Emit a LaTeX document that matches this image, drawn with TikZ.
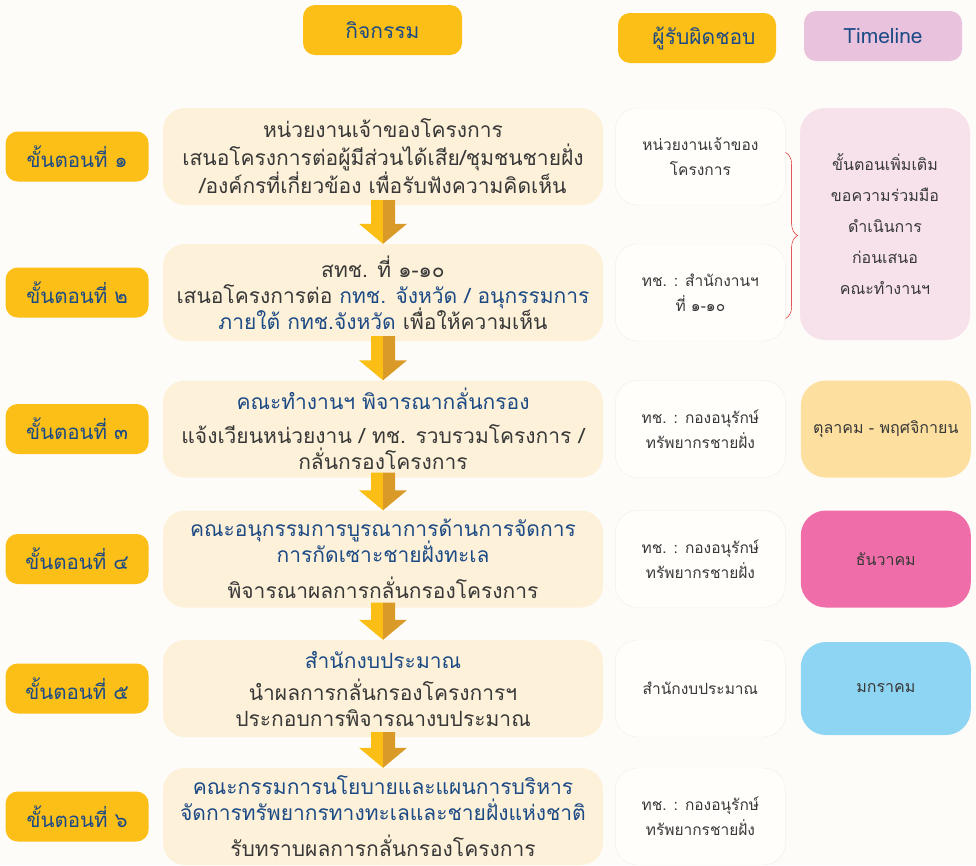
\documentclass[tikz,border=0pt]{standalone}
\usepackage{fontspec}
\setmainfont[Script=Thai]{Loma}
\usetikzlibrary{positioning,calc,decorations.pathreplacing}
\definecolor{paper}{HTML}{FEFCF8}
\definecolor{sunYellow}{HTML}{FCBF17}
\definecolor{cream}{HTML}{FDF1D9}
\definecolor{navy}{HTML}{1C4A85}
\definecolor{ink}{HTML}{383838}
\definecolor{line}{HTML}{F3EFE8}
\definecolor{lilac}{HTML}{E9C3DD}
\definecolor{blush}{HTML}{F7E2EC}
\definecolor{peach}{HTML}{FDE0A0}
\definecolor{rose}{HTML}{EF6DA8}
\definecolor{sky}{HTML}{8DD5F2}
\definecolor{arrowLight}{HTML}{FBBE15}
\definecolor{arrowDark}{HTML}{D99A28}
\tikzset{%
    base/.style = {
        rectangle, rounded corners=22pt, align=center, inner sep=0pt
    },
    header/.style = {base, rounded corners=12pt, minimum width=159pt,
        minimum height=50pt, fill=sunYellow, text=navy,
        font=\fontsize{21}{24}\selectfont},
    stepLabel/.style = {base, rounded corners=12pt, minimum width=143pt,
        minimum height=50pt, fill=sunYellow, text=navy,
        font=\fontsize{20.5}{24}\selectfont},
    activity/.style = {base, minimum width=440pt, minimum height=97pt,
        fill=cream, text=ink, font=\fontsize{21}{28}\selectfont},
    owner/.style = {base, minimum width=170pt, minimum height=97pt,
        fill=white!50!paper, draw=line, text=ink,
        font=\fontsize{15.5}{25}\selectfont},
    timeBox/.style = {base, rounded corners=25pt, minimum width=170pt,
        minimum height=97pt, text=ink, font=\fontsize{16}{25}\selectfont},
}
\newcommand{\hl}[1]{\textcolor{navy}{#1}}

\begin{document}
\begin{tikzpicture}[x=1pt, y=-1pt]
    \fill[paper] (0,0) rectangle (976,865);
    \useasboundingbox (0,0) rectangle (976,865);

    % Headers
    \node (headAct)   [header] at (382.5,30) {กิจกรรม};
    \node (headOwner) [header, minimum width=158pt] at (697,38) {\hspace{14pt}ผู้รับผิดชอบ};
    \node (headTime)  [header, minimum width=158pt, fill=lilac] at (883,36) {Timeline};

    % Activities
    \node (act1) [activity] at (383,156.5)
        {หน่วยงานเจ้าของโครงการ\\เสนอโครงการต่อผู้มีส่วนได้เสีย/ชุมชนชายฝั่ง\\/องค์กรที่เกี่ยวข้อง เพื่อรับฟังความคิดเห็น};
    \node (act2) [activity] at (383,292.5)
        {สทช. ที่ ๑-๑๐\\[-2pt]เสนอโครงการต่อ \hl{กทช. จังหวัด / อนุกรรมการ}\\[-2pt]\hl{ภายใต้ กทช.จังหวัด} เพื่อให้ความเห็น};
    \node (act3) [activity] at (383,429)
        {\hl{คณะทำงานฯ พิจารณากลั่นกรอง}\\[6pt]แจ้งเวียนหน่วยงาน / ทช. รวบรวมโครงการ /\\[-2pt]กลั่นกรองโครงการ};
    \node (act4) [activity] at (383,559)
        {\hl{คณะอนุกรรมการบูรณาการด้านการจัดการ}\\[-2pt]\hl{การกัดเซาะชายฝั่งทะเล}\\[8pt]พิจารณาผลการกลั่นกรองโครงการ};
    \node (act5) [activity] at (383,688.5)
        {\hl{สำนักงบประมาณ}\\[4pt]นำผลการกลั่นกรองโครงการฯ\\[-2pt]ประกอบการพิจารณางบประมาณ};
    \node (act6) [activity] at (383,816.5)
        {\hl{คณะกรรมการนโยบายและแผนการบริหาร}\\[-2pt]\hl{จัดการทรัพยากรทางทะเลและชายฝั่งแห่งชาติ}\\[8pt]รับทราบผลการกลั่นกรองโครงการ};

    % Steps
    \node (step1) [stepLabel, left=14pt of act1] {ขั้นตอนที่ ๑};
    \node (step2) [stepLabel, left=14pt of act2] {ขั้นตอนที่ ๒};
    \node (step3) [stepLabel, left=14pt of act3] {ขั้นตอนที่ ๓};
    \node (step4) [stepLabel, left=14pt of act4] {ขั้นตอนที่ ๔};
    \node (step5) [stepLabel, left=14pt of act5] {ขั้นตอนที่ ๕};
    \node (step6) [stepLabel, left=14pt of act6] {ขั้นตอนที่ ๖};

    % Owners
    \node (owner1) [owner, right=12pt of act1] {หน่วยงานเจ้าของ\\โครงการ};
    \node (owner2) [owner, right=12pt of act2] {ทช. : สำนักงานฯ\\ที่ ๑-๑๐};
    \node (owner3) [owner, right=12pt of act3] {ทช. : กองอนุรักษ์\\ทรัพยากรชายฝั่ง};
    \node (owner4) [owner, right=12pt of act4] {ทช. : กองอนุรักษ์\\ทรัพยากรชายฝั่ง};
    \node (owner5) [owner, right=12pt of act5] {สำนักงบประมาณ};
    \node (owner6) [owner, right=12pt of act6] {ทช. : กองอนุรักษ์\\ทรัพยากรชายฝั่ง};

    % Timeline
    \node (time12) [timeBox, fill=blush, minimum height=232pt, font=\fontsize{16}{31}\selectfont] at (885,224)
        {ขั้นตอนเพิ่มเติม\\ขอความร่วมมือ\\ดำเนินการ\\ก่อนเสนอ\\คณะทำงานฯ};
    \node (time3) [timeBox, fill=peach, right=15pt of owner3] {ตุลาคม - พฤศจิกายน};
    \node (time4) [timeBox, fill=rose, right=15pt of owner4] {ธันวาคม};
    \node (time5) [timeBox, fill=sky, minimum height=93pt, right=15pt of owner5] {มกราคม};

    % Brace
    \coordinate (braceTop) at ($(owner1.east)+(0,-4)$);
    \coordinate (braceEnd) at ($(owner2.east)+(0,26)$);
    \draw[red!85!black, thin, decorate, decoration={brace, amplitude=12pt}]
        (braceTop) -- (braceEnd);

    % Arrow specification
    \foreach \a/\b in {act1/act2, act2/act3, act3/act4, act4/act5, act5/act6} {
        \fill[arrowLight] ($(\a.south)+(-12,-5)$) -- ($(\a.south)+(0,-5)$)
            -- (\b.north) -- ($(\b.north)+(-24,-20)$) -- ($(\b.north)+(-12,-20)$) -- cycle;
        \fill[arrowDark] ($(\a.south)+(12,-5)$) -- ($(\a.south)+(0,-5)$)
            -- (\b.north) -- ($(\b.north)+(24,-20)$) -- ($(\b.north)+(12,-20)$) -- cycle;
    }
\end{tikzpicture}
\end{document}
